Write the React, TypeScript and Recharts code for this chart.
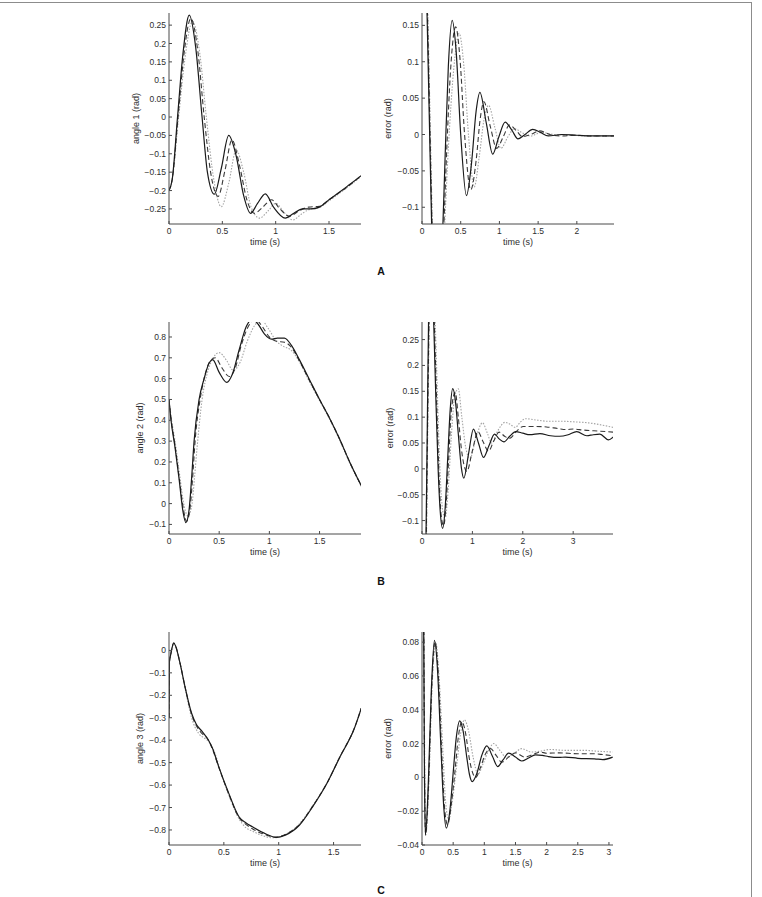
import { LineChart, Line, XAxis, YAxis } from 'recharts'

// ---- A: angle 1 ----
const a1SolidT = [0, 0.03, 0.08, 0.13, 0.19, 0.25, 0.31, 0.36, 0.425, 0.49, 0.56, 0.63, 0.70, 0.764, 0.83, 0.903, 0.98, 1.09, 1.17, 1.25, 1.33, 1.41, 1.5, 1.6, 1.7, 1.8]
const a1SolidY = [-0.2, -0.17, 0.0, 0.17, 0.277, 0.19, 0.0, -0.15, -0.21, -0.14, -0.05, -0.106, -0.214, -0.262, -0.235, -0.209, -0.245, -0.275, -0.262, -0.25, -0.25, -0.245, -0.225, -0.204, -0.182, -0.16]
const a1DashT = [0, 0.03, 0.085, 0.14, 0.205, 0.27, 0.33, 0.39, 0.46, 0.525, 0.59, 0.66, 0.73, 0.80, 0.88, 0.96, 1.04, 1.13, 1.22, 1.31, 1.41, 1.5, 1.6, 1.7, 1.8]
const a1DashY = [-0.2, -0.17, 0.0, 0.17, 0.268, 0.18, 0.0, -0.15, -0.216, -0.145, -0.062, -0.13, -0.225, -0.262, -0.245, -0.225, -0.25, -0.27, -0.255, -0.245, -0.243, -0.225, -0.205, -0.184, -0.16]
const a1DotT = [0, 0.03, 0.09, 0.15, 0.22, 0.29, 0.35, 0.42, 0.49, 0.56, 0.63, 0.70, 0.77, 0.85, 0.93, 1.0, 1.08, 1.16, 1.25, 1.33, 1.41, 1.5, 1.6, 1.7, 1.8]
const a1DotY = [-0.2, -0.17, 0.0, 0.16, 0.26, 0.17, 0.0, -0.17, -0.244, -0.18, -0.09, -0.15, -0.245, -0.275, -0.255, -0.235, -0.26, -0.28, -0.262, -0.25, -0.246, -0.228, -0.207, -0.185, -0.162]

const e1SolidT = [0, 0.03, 0.065, 0.095, 0.125, 0.16, 0.195, 0.23, 0.265, 0.3, 0.34, 0.39, 0.44, 0.5, 0.574, 0.64, 0.70, 0.748, 0.83, 0.913, 0.99, 1.074, 1.16, 1.24, 1.33, 1.43, 1.53, 1.63, 1.8, 2.0, 2.2, 2.49]
const e1SolidY = [0.38, 0.32, 0.167, 0.02, -0.125, -0.22, -0.26, -0.21, -0.14, -0.026, 0.093, 0.157, 0.116, 0.0, -0.084, -0.039, 0.033, 0.058, 0.016, -0.027, -0.004, 0.017, 0.006, -0.006, 0.0, 0.007, 0.003, -0.002, 0.0, -0.001, -0.002, -0.002]
const e1DashT = [0, 0.03, 0.07, 0.1, 0.13, 0.17, 0.21, 0.28, 0.32, 0.37, 0.435, 0.49, 0.55, 0.63, 0.70, 0.75, 0.80, 0.88, 0.965, 1.05, 1.13, 1.22, 1.3, 1.4, 1.52, 1.65, 1.8, 2.0, 2.2, 2.49]
const e1DashY = [0.39, 0.33, 0.17, 0.02, -0.125, -0.23, -0.26, -0.13, -0.02, 0.09, 0.148, 0.105, 0.0, -0.076, -0.035, 0.02, 0.045, 0.012, -0.019, -0.003, 0.013, 0.005, -0.003, 0.0, 0.005, 0.0, -0.002, -0.001, -0.002, -0.002]
const e1DotT = [0, 0.03, 0.075, 0.105, 0.135, 0.175, 0.22, 0.29, 0.34, 0.41, 0.48, 0.54, 0.6, 0.674, 0.74, 0.8, 0.86, 0.94, 1.02, 1.11, 1.195, 1.3, 1.4, 1.55, 1.7, 1.9, 2.2, 2.49]
const e1DotY = [0.4, 0.34, 0.17, 0.02, -0.125, -0.23, -0.26, -0.13, -0.02, 0.09, 0.139, 0.095, 0.0, -0.072, -0.03, 0.02, 0.04, 0.01, -0.019, -0.003, 0.008, 0.002, -0.002, 0.003, 0.0, -0.001, -0.002, -0.002]

// ---- B: angle 2 ----
const a2SolidT = [0, 0.02, 0.06, 0.1, 0.14, 0.168, 0.2, 0.225, 0.25, 0.3, 0.35, 0.4, 0.435, 0.5, 0.576, 0.63, 0.7, 0.77, 0.83, 0.89, 0.95, 1.02, 1.08, 1.15, 1.22, 1.3, 1.4, 1.5, 1.6, 1.7, 1.8, 1.92]
const a2SolidY = [0.5, 0.4, 0.27, 0.12, -0.04, -0.091, -0.03, 0.12, 0.3, 0.5, 0.6, 0.675, 0.691, 0.63, 0.582, 0.62, 0.74, 0.85, 0.885, 0.86, 0.815, 0.79, 0.795, 0.795, 0.76, 0.69, 0.595, 0.5, 0.41, 0.31, 0.2, 0.082]
const a2DashT = [0, 0.02, 0.06, 0.1, 0.145, 0.175, 0.21, 0.235, 0.26, 0.31, 0.36, 0.41, 0.46, 0.53, 0.6, 0.66, 0.72, 0.79, 0.86, 0.93, 1.0, 1.07, 1.15, 1.22, 1.3, 1.4, 1.5, 1.6, 1.7, 1.8, 1.92]
const a2DashY = [0.5, 0.41, 0.28, 0.13, -0.03, -0.085, -0.02, 0.12, 0.3, 0.5, 0.62, 0.685, 0.70, 0.65, 0.61, 0.65, 0.76, 0.85, 0.885, 0.85, 0.80, 0.78, 0.775, 0.75, 0.685, 0.59, 0.5, 0.41, 0.31, 0.2, 0.082]
const a2DotT = [0, 0.02, 0.06, 0.1, 0.15, 0.19, 0.23, 0.255, 0.28, 0.33, 0.39, 0.44, 0.5, 0.57, 0.64, 0.71, 0.78, 0.86, 0.92, 0.99, 1.07, 1.14, 1.22, 1.3, 1.4, 1.5, 1.6, 1.7, 1.8, 1.92]
const a2DotY = [0.5, 0.42, 0.3, 0.16, -0.01, -0.06, 0.0, 0.13, 0.27, 0.5, 0.64, 0.7, 0.725, 0.69, 0.64, 0.68, 0.78, 0.86, 0.88, 0.84, 0.78, 0.755, 0.735, 0.68, 0.585, 0.495, 0.405, 0.305, 0.195, 0.08]

const e2SolidT = [0, 0.04, 0.08, 0.105, 0.13, 0.16, 0.19, 0.215, 0.245, 0.28, 0.32, 0.36, 0.41, 0.46, 0.51, 0.56, 0.61, 0.66, 0.72, 0.78, 0.83, 0.925, 1.02, 1.12, 1.22, 1.33, 1.44, 1.53, 1.625, 1.74, 1.86, 2.0, 2.14, 2.34, 2.55, 2.73, 2.9, 3.07, 3.27, 3.4, 3.53, 3.7, 3.8]
const e2SolidY = [-0.4, -0.32, -0.126, 0.08, 0.284, 0.38, 0.4, 0.34, 0.24, 0.12, 0.0, -0.08, -0.115, -0.075, 0.02, 0.115, 0.155, 0.134, 0.068, 0.003, -0.018, 0.03, 0.077, 0.05, 0.022, 0.045, 0.067, 0.058, 0.052, 0.063, 0.072, 0.069, 0.066, 0.068, 0.064, 0.063, 0.066, 0.072, 0.064, 0.066, 0.067, 0.056, 0.062]
const e2DashT = [0, 0.04, 0.085, 0.11, 0.14, 0.17, 0.2, 0.23, 0.26, 0.3, 0.34, 0.38, 0.43, 0.48, 0.53, 0.58, 0.66, 0.72, 0.78, 0.89, 1.0, 1.11, 1.21, 1.32, 1.42, 1.53, 1.64, 1.74, 1.87, 2.01, 2.25, 2.47, 2.7, 2.87, 3.0, 3.2, 3.5, 3.8]
const e2DashY = [-0.4, -0.3, -0.126, 0.08, 0.284, 0.38, 0.4, 0.33, 0.23, 0.1, -0.02, -0.09, -0.11, -0.065, 0.02, 0.11, 0.148, 0.1, 0.04, -0.005, 0.035, 0.072, 0.053, 0.034, 0.053, 0.071, 0.063, 0.059, 0.072, 0.082, 0.082, 0.081, 0.078, 0.076, 0.077, 0.075, 0.073, 0.071]
const e2DotT = [0, 0.045, 0.09, 0.115, 0.145, 0.18, 0.21, 0.245, 0.28, 0.32, 0.36, 0.41, 0.46, 0.52, 0.58, 0.65, 0.72, 0.79, 0.87, 0.95, 1.07, 1.2, 1.3, 1.38, 1.5, 1.65, 1.75, 1.85, 1.95, 2.05, 2.3, 2.5, 2.8, 3.0, 3.3, 3.5, 3.8]
const e2DotY = [-0.4, -0.29, -0.126, 0.08, 0.284, 0.38, 0.4, 0.33, 0.23, 0.1, -0.01, -0.08, -0.095, -0.04, 0.06, 0.14, 0.155, 0.1, 0.04, 0.02, 0.06, 0.089, 0.068, 0.05, 0.073, 0.09, 0.086, 0.08, 0.09, 0.097, 0.094, 0.092, 0.092, 0.091, 0.089, 0.086, 0.08]

// ---- C: angle 3 ----
const a3SolidT = [0, 0.004, 0.015, 0.025, 0.043, 0.06, 0.1, 0.145, 0.206, 0.25, 0.3, 0.36, 0.4, 0.453, 0.545, 0.638, 0.7, 0.76, 0.884, 0.976, 1.06, 1.19, 1.31, 1.44, 1.56, 1.69, 1.753]
const a3SolidY = [-0.3, -0.05, -0.02, 0.005, 0.033, 0.02, -0.056, -0.16, -0.28, -0.33, -0.36, -0.4, -0.44, -0.518, -0.637, -0.741, -0.768, -0.786, -0.818, -0.833, -0.823, -0.778, -0.696, -0.592, -0.473, -0.347, -0.257]
const a3DashT = [0, 0.004, 0.015, 0.025, 0.043, 0.06, 0.1, 0.145, 0.206, 0.26, 0.3, 0.36, 0.4, 0.453, 0.545, 0.638, 0.7, 0.76, 0.884, 0.976, 1.06, 1.19, 1.31, 1.44, 1.56, 1.69, 1.753]
const a3DashY = [-0.3, -0.05, -0.02, 0.005, 0.033, 0.02, -0.056, -0.16, -0.285, -0.345, -0.37, -0.4, -0.445, -0.52, -0.64, -0.745, -0.775, -0.795, -0.822, -0.832, -0.82, -0.775, -0.694, -0.591, -0.472, -0.346, -0.257]
const a3DotT = [0, 0.004, 0.015, 0.025, 0.043, 0.06, 0.1, 0.145, 0.206, 0.27, 0.32, 0.37, 0.42, 0.47, 0.545, 0.638, 0.7, 0.76, 0.85, 0.95, 1.06, 1.19, 1.31, 1.44, 1.56, 1.69, 1.753]
const a3DotY = [-0.3, -0.05, -0.02, 0.005, 0.033, 0.02, -0.056, -0.165, -0.3, -0.37, -0.39, -0.41, -0.46, -0.54, -0.645, -0.75, -0.79, -0.805, -0.825, -0.835, -0.82, -0.772, -0.692, -0.59, -0.471, -0.346, -0.257]

const e3SolidT = [0, 0.01, 0.025, 0.04, 0.055, 0.1, 0.15, 0.2, 0.25, 0.3, 0.35, 0.39, 0.45, 0.5, 0.55, 0.606, 0.66, 0.72, 0.76, 0.805, 0.88, 0.96, 1.04, 1.13, 1.215, 1.3, 1.39, 1.5, 1.6, 1.71, 1.82, 1.93, 2.03, 2.2, 2.3, 2.5, 2.77, 2.9, 3.06]
const e3SolidY = [0.3, 0.25, 0.1, 0.0, -0.034, -0.005, 0.052, 0.081, 0.063, 0.021, -0.018, -0.03, -0.0187, 0.0026, 0.0235, 0.0334, 0.0274, 0.0115, 0.002, -0.0025, 0.0023, 0.0131, 0.0186, 0.0125, 0.0064, 0.0103, 0.0143, 0.012, 0.0097, 0.0115, 0.0133, 0.013, 0.0123, 0.0118, 0.012, 0.0113, 0.011, 0.0105, 0.012]
const e3DashT = [0, 0.012, 0.028, 0.042, 0.058, 0.105, 0.155, 0.21, 0.26, 0.31, 0.36, 0.41, 0.47, 0.53, 0.58, 0.64, 0.7, 0.76, 0.86, 0.94, 1.02, 1.1, 1.19, 1.28, 1.39, 1.5, 1.65, 1.78, 1.9, 2.0, 2.2, 2.5, 2.72, 2.9, 3.06]
const e3DashY = [0.3, 0.25, 0.1, 0.0, -0.034, -0.004, 0.052, 0.08, 0.062, 0.02, -0.017, -0.028, -0.016, 0.004, 0.023, 0.033, 0.026, 0.011, 0.0, 0.006, 0.014, 0.017, 0.013, 0.009, 0.012, 0.0145, 0.012, 0.0135, 0.015, 0.0143, 0.0145, 0.014, 0.014, 0.0135, 0.0128]
const e3DotT = [0, 0.014, 0.03, 0.045, 0.06, 0.11, 0.16, 0.22, 0.27, 0.33, 0.38, 0.43, 0.49, 0.56, 0.62, 0.68, 0.75, 0.82, 0.9, 0.98, 1.07, 1.15, 1.25, 1.35, 1.47, 1.6, 1.75, 1.9, 2.05, 2.3, 2.6, 2.8, 3.06]
const e3DotY = [0.3, 0.25, 0.1, 0.0, -0.034, -0.004, 0.052, 0.08, 0.062, 0.02, -0.015, -0.025, -0.013, 0.008, 0.026, 0.034, 0.027, 0.012, 0.002, 0.008, 0.016, 0.02, 0.016, 0.012, 0.014, 0.017, 0.015, 0.0155, 0.0165, 0.016, 0.016, 0.0155, 0.015]

// ---- axis ticks ----
const a1XTicks = [0, 0.5, 1, 1.5]
const a1YTicks = [-0.25, -0.2, -0.15, -0.1, -0.05, 0, 0.05, 0.1, 0.15, 0.2, 0.25]
const e1XTicks = [0, 0.5, 1, 1.5, 2]
const e1YTicks = [-0.1, -0.05, 0, 0.05, 0.1, 0.15]
const a2XTicks = [0, 0.5, 1, 1.5]
const a2YTicks = [-0.1, 0, 0.1, 0.2, 0.3, 0.4, 0.5, 0.6, 0.7, 0.8]
const e2XTicks = [0, 1, 2, 3]
const e2YTicks = [-0.1, -0.05, 0, 0.05, 0.1, 0.15, 0.2, 0.25]
const a3XTicks = [0, 0.5, 1, 1.5]
const a3YTicks = [-0.8, -0.7, -0.6, -0.5, -0.4, -0.3, -0.2, -0.1, 0]
const e3XTicks = [0, 0.5, 1, 1.5, 2, 2.5, 3]
const e3YTicks = [-0.04, -0.02, 0, 0.02, 0.04, 0.06, 0.08]

const TICK_FONT = "'Liberation Sans Narrow', 'Arial Narrow', 'Liberation Sans', Arial, sans-serif"
const LABEL_FONT = "'Liberation Sans', Arial, sans-serif"
const AXIS = '#4a4a4a'
const TEXT = '#2e2e2e'

const pts = (t: number[], y: number[]) => t.map((tt, i) => ({ t: tt, v: y[i] }))

const fmt = (v: number) => {
  const r = Math.round(v * 1000) / 1000
  return r < 0 ? '\u2212' + String(-r) : String(r)
}

interface PanelProps {
  x0: number
  y0: number
  w: number
  h: number
  xMax: number
  xTicks: number[]
  yDomain: [number, number]
  yTicks: number[]
  yLabel: string
  labelDx: number
  solid: { t: number; v: number }[]
  dashed: { t: number; v: number }[]
  dotted: { t: number; v: number }[]
}

function Panel(p: PanelProps) {
  return (
    <div style={{ position: 'absolute', left: p.x0 - 60, top: p.y0 - 10 }}>
      <LineChart width={p.w + 70} height={p.h + 50} margin={{ top: 10, right: 10, bottom: 0, left: 0 }}>
        <XAxis
          type="number"
          dataKey="t"
          domain={[0, p.xMax]}
          ticks={p.xTicks}
          interval={0}
          allowDataOverflow
          height={40}
          stroke={AXIS}
          tickSize={-3}
          tickMargin={7}
          tickFormatter={fmt}
          tick={{ fontSize: 8.5, fill: TEXT, fontFamily: TICK_FONT }}
          label={{ value: 'time (s)', position: 'insideTop', offset: 15, style: { fontSize: 9, fill: TEXT, fontFamily: TICK_FONT } }}
        />
        <YAxis
          type="number"
          domain={p.yDomain}
          ticks={p.yTicks}
          interval={0}
          allowDataOverflow
          width={60}
          stroke={AXIS}
          tickSize={-3}
          tickMargin={6}
          tickFormatter={fmt}
          tick={{ fontSize: 8.5, fill: TEXT, fontFamily: TICK_FONT }}
          label={{ value: p.yLabel, angle: -90, position: 'center', dx: p.labelDx, style: { fontSize: 9, fill: TEXT, fontFamily: LABEL_FONT } }}
        />
        <Line data={p.dotted} dataKey="v" type="monotone" stroke="#a4a4a4" strokeWidth={1.1} strokeDasharray="1.5 1.5" dot={false} isAnimationActive={false} />
        <Line data={p.dashed} dataKey="v" type="monotone" stroke="#3a3a3a" strokeWidth={1.1} strokeDasharray="5 3" dot={false} isAnimationActive={false} />
        <Line data={p.solid} dataKey="v" type="monotone" stroke="#1a1a1a" strokeWidth={1.2} dot={false} isAnimationActive={false} />
      </LineChart>
    </div>
  )
}

const letterStyle = {
  position: 'absolute' as const,
  left: 361,
  width: 40,
  textAlign: 'center' as const,
  fontFamily: LABEL_FONT,
  fontWeight: 'bold' as const,
  fontSize: 10.5,
  lineHeight: '12px',
  color: '#111',
}

export default function App() {
  return (
    <div style={{ position: 'absolute', left: 0, top: 0, width: 762, height: 897, background: '#fff', overflow: 'hidden' }}>
      <div style={{ position: 'absolute', left: 0, top: 2, width: 751, height: 900, borderTop: '1px solid #8c8c8c', borderRight: '1px solid #8c8c8c' }} />

      <Panel x0={169} y0={13} w={192} h={211} xMax={1.8} xTicks={a1XTicks} yDomain={[-0.291, 0.283]} yTicks={a1YTicks}
        yLabel="angle 1 (rad)" labelDx={-3}
        solid={pts(a1SolidT, a1SolidY)} dashed={pts(a1DashT, a1DashY)} dotted={pts(a1DotT, a1DotY)} />
      <Panel x0={422} y0={13} w={192} h={211} xMax={2.48} xTicks={e1XTicks} yDomain={[-0.123, 0.167]} yTicks={e1YTicks}
        yLabel="error (rad)" labelDx={-4}
        solid={pts(e1SolidT, e1SolidY)} dashed={pts(e1DashT, e1DashY)} dotted={pts(e1DotT, e1DotY)} />
      <div style={{ ...letterStyle, top: 265 }}>A</div>

      <Panel x0={169} y0={322} w={192} h={212} xMax={1.913} xTicks={a2XTicks} yDomain={[-0.146, 0.872]} yTicks={a2YTicks}
        yLabel="angle 2 (rad)" labelDx={1}
        solid={pts(a2SolidT, a2SolidY)} dashed={pts(a2DashT, a2DashY)} dotted={pts(a2DotT, a2DotY)} />
      <Panel x0={422} y0={322} w={191} h={212} xMax={3.79} xTicks={e2XTicks} yDomain={[-0.126, 0.284]} yTicks={e2YTicks}
        yLabel="error (rad)" labelDx={-2}
        solid={pts(e2SolidT, e2SolidY)} dashed={pts(e2DashT, e2DashY)} dotted={pts(e2DotT, e2DotY)} />
      <div style={{ ...letterStyle, top: 575 }}>B</div>

      <Panel x0={169} y0={632} w={192} h={213} xMax={1.75} xTicks={a3XTicks} yDomain={[-0.867, 0.082]} yTicks={a3YTicks}
        yLabel="angle 3 (rad)" labelDx={1}
        solid={pts(a3SolidT, a3SolidY)} dashed={pts(a3DashT, a3DashY)} dotted={pts(a3DotT, a3DotY)} />
      <Panel x0={422} y0={632} w={191} h={213} xMax={3.065} xTicks={e3XTicks} yDomain={[-0.04, 0.086]} yTicks={e3YTicks}
        yLabel="error (rad)" labelDx={-4}
        solid={pts(e3SolidT, e3SolidY)} dashed={pts(e3DashT, e3DashY)} dotted={pts(e3DotT, e3DotY)} />
      <div style={{ ...letterStyle, top: 884 }}>C</div>
    </div>
  )
}
